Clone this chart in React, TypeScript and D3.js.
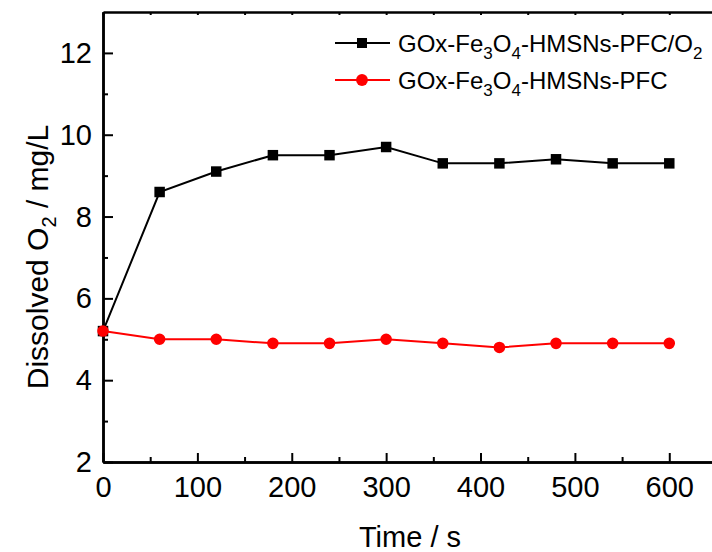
import * as d3 from "d3";
import { useEffect, useRef } from "react";

// time points (s)
const times = [0, 60, 120, 180, 240, 300, 360, 420, 480, 540, 600];
// dissolved O2 (mg/L)
const withO2 = [5.2, 8.6, 9.1, 9.5, 9.5, 9.7, 9.3, 9.3, 9.4, 9.3, 9.3];
const withoutO2 = [5.2, 5.0, 5.0, 4.9, 4.9, 5.0, 4.9, 4.8, 4.9, 4.9, 4.9];
const xTicks = [0, 100, 200, 300, 400, 500, 600];
const yTicks = [2, 4, 6, 8, 10, 12];

export default function App() {
  const ref = useRef<SVGSVGElement>(null);

  useEffect(() => {
    const svgY = 552;
    const margin = { top: 12, left: 103, bottom: 90 };
    const height = svgY - margin.top - margin.bottom;

    const svg = d3.select(ref.current);
    svg.selectAll("*").remove();
    const font = "Liberation Sans, Arial, sans-serif";

    const x = d3.scaleLinear().domain([0, 650]).range([margin.left, margin.left + 650 * 0.9438]);
    const y = d3.scaleLinear().domain([2, 13]).range([margin.top + height, margin.top]);

    const g = svg.append("g");

    // minor ticks
    const xMinor = d3.range(50, 650, 100);
    const yMinor = d3.range(3, 13, 2);

    // bottom axis
    const bottom = g.append("g").attr("transform", `translate(0,${y(2)})`);
    bottom.call(d3.axisBottom(x).tickValues(xTicks).tickSizeInner(-9).tickSizeOuter(0).tickPadding(14).tickFormat(d3.format("d")));
    bottom.append("g").call(d3.axisBottom(x).tickValues(xMinor).tickSizeInner(-5).tickSizeOuter(0).tickFormat(() => ""));

    // left axis
    const left = g.append("g").attr("transform", `translate(${x(0)},0)`);
    left.call(d3.axisLeft(y).tickValues(yTicks).tickSizeInner(-10).tickSizeOuter(0).tickPadding(11).tickFormat(d3.format("d")));
    left.append("g").call(d3.axisLeft(y).tickValues(yMinor).tickSizeInner(-5).tickSizeOuter(0).tickFormat(() => ""));

    // top axis
    const top = g.append("g").attr("transform", `translate(0,${y(13)})`);
    top.call(d3.axisTop(x).tickValues(d3.range(0, 650, 50)).tickSizeInner(-3).tickSizeOuter(0).tickFormat(() => ""));

    g.selectAll(".domain").attr("stroke", "#000").attr("stroke-width", 2.5);
    g.selectAll(".tick line").attr("stroke", "#000").attr("stroke-width", 2);
    g.selectAll(".tick text").attr("font-family", font).attr("font-size", 29).attr("fill", "#000");
    left.selectAll(".tick text").attr("dy", "0.33em");

    const series = [
      { name: "o2", values: withO2, color: "#000", shape: "square" },
      { name: "pfc", values: withoutO2, color: "#ff0000", shape: "circle" },
    ];

    const line = d3.line<number>().x((_, i) => x(times[i])).y((d) => y(d));

    series.forEach((s) => {
      g.append("path")
        .attr("d", line(s.values))
        .attr("fill", "none")
        .attr("stroke", s.color)
        .attr("stroke-width", 2);
      const sym = d3.symbol().type(s.shape === "square" ? d3.symbolSquare : d3.symbolCircle).size(s.shape === "square" ? 110 : 105);
      g.selectAll(null)
        .data(s.values)
        .join("path")
        .attr("transform", (d, i) => `translate(${x(times[i])},${y(d)})`)
        .attr("d", sym())
        .attr("fill", s.color);
    });

    // legend
    const legendRows = [
      { y: 43, color: "#000", shape: "square", sub2: true },
      { y: 80, color: "#ff0000", shape: "circle", sub2: false },
    ];
    legendRows.forEach((r) => {
      g.append("line")
        .attr("x1", 335).attr("x2", 390).attr("y1", r.y).attr("y2", r.y)
        .attr("stroke", r.color).attr("stroke-width", 2);
      g.append("path")
        .attr("transform", `translate(362,${r.y})`)
        .attr("d", d3.symbol().type(r.shape === "square" ? d3.symbolSquare : d3.symbolCircle).size(r.shape === "square" ? 100 : 110)())
        .attr("fill", r.color);
      const t = g.append("text")
        .attr("x", 398).attr("y", r.y + 9)
        .attr("font-family", font).attr("font-size", 24).attr("fill", "#000");
      t.append("tspan").text("GOx-Fe");
      t.append("tspan").attr("font-size", 17).attr("dy", 7).text("3");
      t.append("tspan").attr("dy", -7).text("O");
      t.append("tspan").attr("font-size", 17).attr("dy", 7).text("4");
      t.append("tspan").attr("dy", -7).text(r.sub2 ? "-HMSNs-PFC/O" : "-HMSNs-PFC");
      if (r.sub2) t.append("tspan").attr("font-size", 17).attr("dy", 7).text("2");
    });

    // axis titles
    g.append("text")
      .attr("x", 410).attr("y", 547)
      .attr("text-anchor", "middle")
      .attr("font-family", font).attr("font-size", 29)
      .text("Time / s");

    const yl = g.append("text")
      .attr("transform", `translate(48,257) rotate(-90)`)
      .attr("text-anchor", "middle")
      .attr("font-family", font).attr("font-size", 30);
    yl.append("tspan").text("Dissolved O");
    yl.append("tspan").attr("font-size", 20).attr("dy", 8).text("2");
    yl.append("tspan").attr("dy", -8).text(" / mg/L");
  }, []);

  return (
    <svg ref={ref} width={712} height={552}
      style={{ position: "absolute", left: 0, top: 0, background: "#fff" }} />
  );
}
